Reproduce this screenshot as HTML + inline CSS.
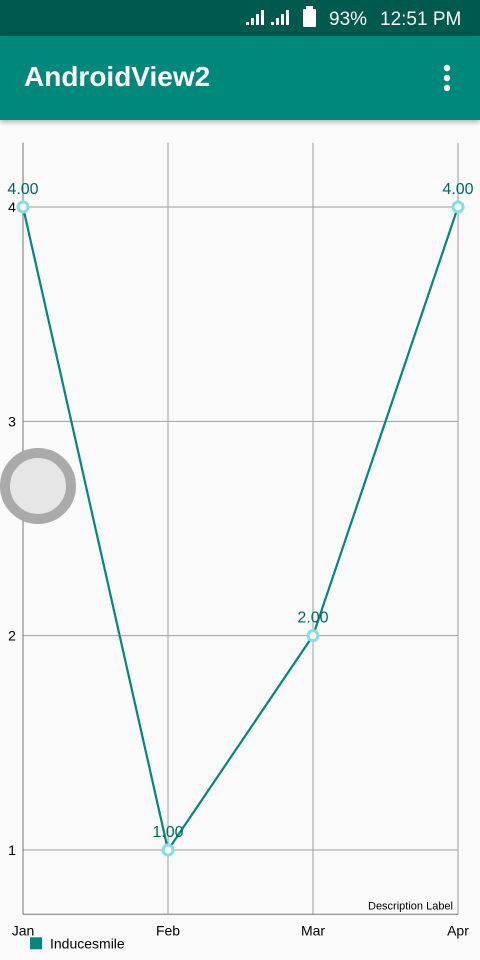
<!DOCTYPE html>
<html><head><meta charset="utf-8"><style>
html,body{margin:0;padding:0;width:480px;height:960px;overflow:hidden;background:#fafafa;font-family:"Liberation Sans",sans-serif}
#status{position:absolute;left:0;top:0;width:480px;height:36px;background:#00594d;color:#fff}
#appbar{position:absolute;left:0;top:36px;width:480px;height:84px;background:#00897b;box-shadow:0 2px 5px rgba(0,0,0,.3)}
</style></head><body>
<div id="status">
 <svg width="480" height="36" style="position:absolute;left:0;top:0">
  <g fill="#fff">
   <rect x="246" y="22" width="3" height="3"/><rect x="251" y="18" width="3" height="7"/><rect x="256" y="14" width="3" height="11"/><rect x="261" y="10" width="3" height="15"/>
   <rect x="271" y="22" width="3" height="3"/><rect x="276" y="18" width="3" height="7"/><rect x="281" y="14" width="3" height="11"/><rect x="286" y="10" width="3" height="15"/>
   <rect x="303" y="9" width="13" height="18" rx="1"/><rect x="306" y="6" width="7" height="3"/>
  </g>
  <text x="329" y="25" font-size="19" fill="#fff">93%</text>
  <text x="380" y="25" font-size="19" fill="#fff">12:51 PM</text>
 </svg>
</div>
<div id="appbar">
 <div style="position:absolute;left:24px;top:25px;color:#fff;font-size:28px;font-weight:bold">AndroidView2</div>
 <svg width="20" height="40" style="position:absolute;left:437px;top:24px"><circle cx="10" cy="8" r="3.2" fill="#fff"/><circle cx="10" cy="18" r="3.2" fill="#fff"/><circle cx="10" cy="28" r="3.2" fill="#fff"/></svg>
</div>
<svg id="chart" width="480" height="840" style="position:absolute;left:0;top:120px"></svg>
<script>
const categories=["Jan","Feb","Mar","Apr"];
const values=[4,1,2,4];
const yTicks=[1,2,3,4];
const seriesName="Inducesmile";
const OFF=120;
function xS(i){return 23+i*145;}
function yS(v){return 850-(v-1)*214.33-OFF;}
const svg=document.getElementById('chart');
const NS="http://www.w3.org/2000/svg";
function mk(t,a,p){const e=document.createElementNS(NS,t);for(const k in a)e.setAttribute(k,a[k]);(p||svg).appendChild(e);return e;}
const yTop=yS(4.3),yBot=yS(0.7);
categories.forEach((c,i)=>{
 const g=mk('line',{x1:xS(i),x2:xS(i),y1:yTop,y2:yBot,stroke:'#9e9e9e','stroke-width':1});
 
 
 const t=mk('text',{x:Math.min(Math.max(xS(i),11),467),y:yBot+21,'font-size':14,fill:'#000','text-anchor':'middle'});
 t.textContent=c;
 
 
});
yTicks.forEach(v=>{
 const g=mk('line',{x1:23,x2:458,y1:yS(v),y2:yS(v),stroke:'#9e9e9e','stroke-width':1});
 
 
 const t=mk('text',{x:12,y:yS(v)+5,'font-size':14,fill:'#000','text-anchor':'middle'});
 t.textContent=v;
 
 
});
const ax=mk('line',{x1:23,x2:458,y1:yBot,y2:yBot,stroke:'#777','stroke-width':1});


const ay=mk('line',{x1:23,x2:23,y1:yTop,y2:yBot,stroke:'#777','stroke-width':1});


const d=mk('text',{x:453,y:yBot-5,'font-size':11,fill:'#000','text-anchor':'end'});
d.textContent="Description Label";


const line=mk('polyline',{points:values.map((v,i)=>xS(i)+','+yS(v)).join(' '),fill:'none',stroke:'#00897b','stroke-width':2.2});


values.forEach((v,i)=>{
 const c=mk('circle',{cx:xS(i),cy:yS(v),r:5,fill:'#fff',stroke:'#80deea','stroke-width':3});
 
 
 const t=mk('text',{x:xS(i),y:yS(v)-13,'font-size':16,fill:'#00695c','text-anchor':'middle'});
 t.textContent=v.toFixed(2);
 
 
});
const lg=mk('rect',{x:30,y:yBot+23,width:12,height:12,fill:'#00897b'});


const lt=mk('text',{x:50,y:yBot+34,'font-size':14,fill:'#000'});
lt.textContent=seriesName;


const ring=mk('circle',{cx:38,cy:366,r:33,fill:'#e6e6e6',stroke:'#aaa','stroke-width':10});


</script>
</body></html>
